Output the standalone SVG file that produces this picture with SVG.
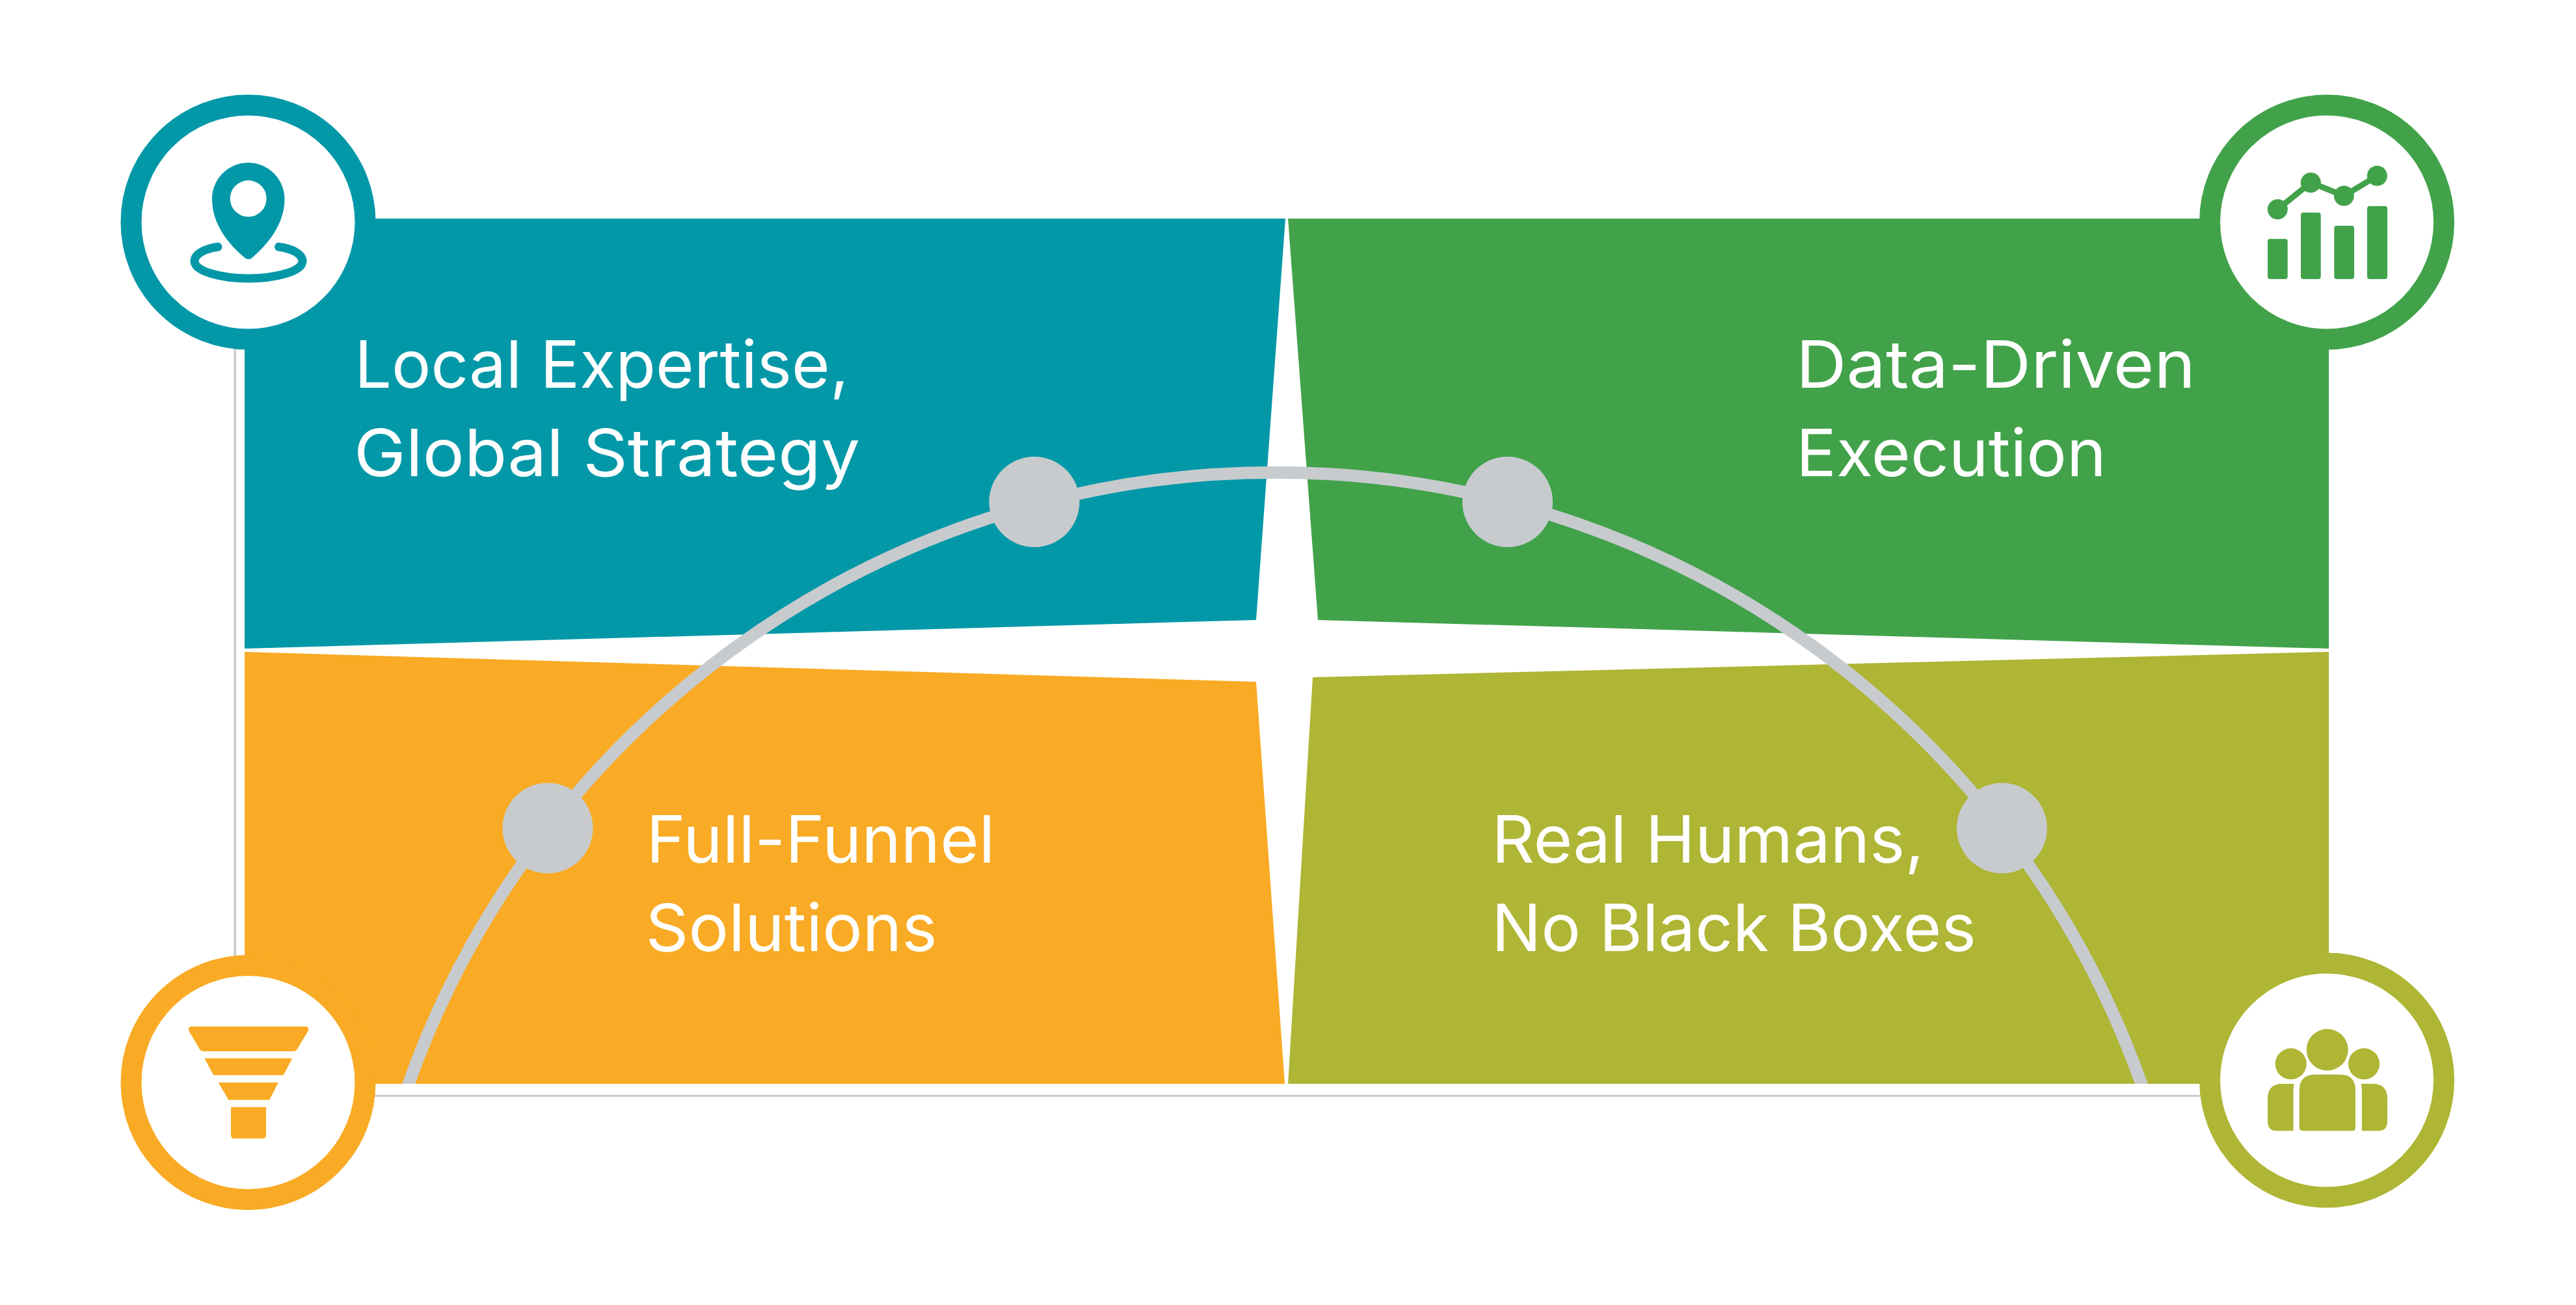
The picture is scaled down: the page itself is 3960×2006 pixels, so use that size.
<svg xmlns="http://www.w3.org/2000/svg" width="3960" height="2006" viewBox="0 0 3960 2006">
<defs>
<style>
.label{font-family:"Inter","Lato","Liberation Sans",sans-serif;font-size:101px;font-weight:400;fill:#fff;font-variant-ligatures:none}
.ring{fill:#fff;stroke-width:32}
.dot{fill:#C7CBCE}
.teal{fill:#0398A8}.green{fill:#41A24A}.orange{fill:#F9AB25}.olive{fill:#AFB534}
</style>
<clipPath id="arcClip"><rect x="0" y="0" width="3960" height="1666"/></clipPath>
</defs>
<rect width="3960" height="2006" fill="#fff"/>
<g id="frame" fill="#C8CCCF">
<rect x="359.5" y="530" width="3.5" height="945"/>
<rect x="570" y="1683" width="2820" height="3"/>
</g>
<g id="quadrants">
<polygon id="q-teal" class="teal" points="376,336 1976,336 1931,953 376,997"/>
<polygon id="q-green" class="green" points="1980,336 3580,336 3580,997 2026,953"/>
<polygon id="q-orange" class="orange" points="376,1002 1931,1048 1975,1666 376,1666"/>
<polygon id="q-olive" class="olive" points="2018,1041 3580,1002 3580,1666 1980,1666"/>
</g>
<g id="connectors">
<path d="M616.5 1700A1413.7 1413.7 0 0 1 3303.5 1700" fill="none" stroke="#C7CBCE" stroke-width="19" clip-path="url(#arcClip)"/>
</g>
<g id="dots">
<circle id="dot-1" class="dot" cx="1590" cy="771.5" r="69.5"/>
<circle id="dot-2" class="dot" cx="2317.500" cy="771.5" r="69.5"/>
<circle id="dot-3" class="dot" cx="842" cy="1273" r="69.5"/>
<circle id="dot-4" class="dot" cx="3077.5" cy="1273" r="69.5"/>
</g>
<g id="node-local">
<circle class="ring" cx="381.5" cy="341.5" r="180" stroke="#0398A8"/>
<path class="teal" fill-rule="evenodd" d="M381.7 250C351 250 326 275 326 306C326 345 352 376 376 396Q382 401 388 396C411 376 437.5 345 437.5 306C437.5 275 412 250 381.7 250ZM381.7 277.300A28 28 0 1 0 381.7 333.300A28 28 0 1 0 381.700 277.300Z"/>
<path d="M335 379.500C316 382 299 390 299 401.500C299 417 340 428 382 428C424 428 465 417 465 401.500C465 390 448 382 428.500 379.500" fill="none" stroke="#0398A8" stroke-width="13" stroke-linecap="round"/>
<text class="label" x="545" y="596" textLength="760" lengthAdjust="spacingAndGlyphs">Local Expertise,</text>
<text class="label" x="544" y="732" textLength="778" lengthAdjust="spacingAndGlyphs">Global Strategy</text>
</g>
<g id="node-data">
<circle class="ring" cx="3577" cy="341.500" r="180" stroke="#41A24A"/>
<polyline points="3501.300,321.700 3552.300,280.700 3603.300,301 3654.300,270.300" fill="none" stroke="#41A24A" stroke-width="9"/>
<g class="green">
<circle cx="3501.300" cy="321.700" r="15.500"/><circle cx="3552.300" cy="280.700" r="15.500"/><circle cx="3603.300" cy="301" r="15.500"/><circle cx="3654.300" cy="270.300" r="15.500"/>
<rect x="3486" y="367.300" width="30.700" height="61.700" rx="4"/>
<rect x="3537" y="326.700" width="30.700" height="102.300" rx="4"/>
<rect x="3588.300" y="347" width="30.700" height="82" rx="4"/>
<rect x="3639" y="316.700" width="31" height="112.300" rx="4"/>
</g>
<text class="label" x="2761" y="596" textLength="614" lengthAdjust="spacingAndGlyphs">Data-Driven</text>
<text class="label" x="2761" y="732" textLength="477" lengthAdjust="spacingAndGlyphs">Execution</text>
</g>
<g id="node-funnel">
<circle class="ring" cx="381.500" cy="1664" r="180" stroke="#F9AB25"/>
<g class="orange">
<path d="M295 1577.700H469Q476 1577.700 473.500 1585L456.700 1613Q455 1616 452 1616H312Q309 1616 307 1613L290.500 1585Q288 1577.700 295 1577.700Z"/>
<polygon points="314.300,1626.700 449.300,1626.700 435.700,1652.700 328.300,1652.700"/>
<polygon points="335.700,1664 428,1664 414,1690.700 351.300,1690.700"/>
<path d="M355 1701.700H409V1745Q409 1750 404 1750H360Q355 1750 355 1745Z"/>
</g>
<text class="label" x="993.500" y="1326" textLength="536" lengthAdjust="spacingAndGlyphs">Full-Funnel</text>
<text class="label" x="992.600" y="1462" textLength="448" lengthAdjust="spacingAndGlyphs">Solutions</text>
</g>
<g id="node-humans">
<circle class="ring" cx="3577" cy="1660.500" r="180" stroke="#AFB534"/>
<g class="olive">
<circle cx="3577.700" cy="1613.700" r="32"/>
<circle cx="3521.700" cy="1635.300" r="24"/>
<circle cx="3634" cy="1635.300" r="24"/>
<path d="M3559 1651.700H3597Q3621 1651.700 3621 1676V1733Q3621 1738.300 3616 1738.300H3540Q3534.700 1738.300 3534.700 1733V1676Q3534.700 1651.700 3559 1651.700Z"/>
<path d="M3509 1666H3526.500Q3525.500 1672 3525.500 1680V1738.300H3500Q3486 1738.300 3486 1724V1689Q3486 1666 3509 1666Z"/>
<path d="M3647 1666H3630Q3630.800 1672 3630.800 1680V1738.300H3656Q3670 1738.300 3670 1724V1689Q3670 1666 3647 1666Z"/>
</g>
<text class="label" x="2293" y="1326" textLength="665" lengthAdjust="spacingAndGlyphs">Real Humans,</text>
<text class="label" x="2293" y="1462" textLength="745" lengthAdjust="spacingAndGlyphs">No Black Boxes</text>
</g>
</svg>
